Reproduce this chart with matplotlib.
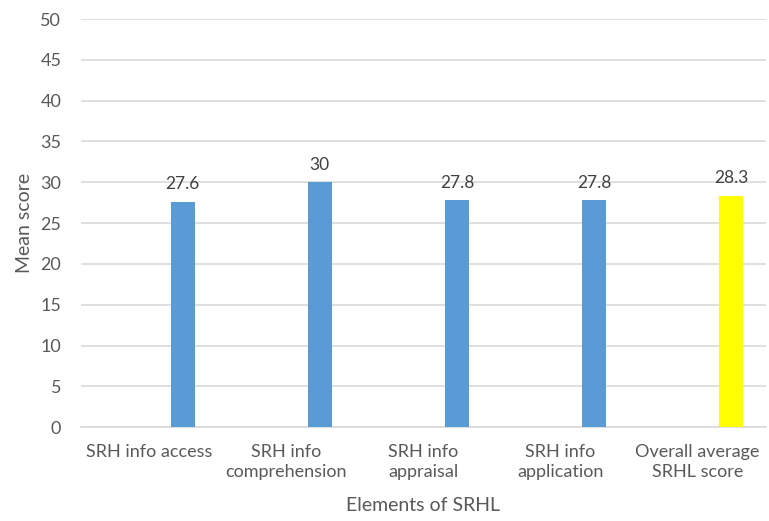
import matplotlib
matplotlib.use("Agg")
import matplotlib.pyplot as plt
import numpy as np

categories = ["SRH info access", "SRH info\ncomprehension", "SRH info\nappraisal",
              "SRH info\napplication", "Overall average\nSRHL score"]
values = [27.6, 30, 27.8, 27.8, 28.3]
labels = ["27.6", "30", "27.8", "27.8", "28.3"]
colors = ["#5B9BD5", "#5B9BD5", "#5B9BD5", "#5B9BD5", "#FFFF00"]

plt.rcParams['font.family'] = ['Lato', 'DejaVu Sans']
fig = plt.figure(figsize=(7.69, 5.21), dpi=100)
ax = fig.add_axes([0.105, 0.180, 0.891, 0.7835])

x = np.arange(len(categories))
offset = 0.245
width = 0.175
bars = ax.bar(x + offset, values, width=width, color=colors, zorder=3)
for xi, v, lab in zip(x, values, labels):
    ax.annotate(lab, (xi + offset, v), xytext=(0, 7), textcoords="offset points",
                ha="center", va="bottom", fontsize=12.5, color="#404040")

ax.set_xlim(-0.5, len(categories) - 0.5)
ax.set_ylim(0, 50)
ax.set_yticks(np.arange(0, 51, 5))
ax.set_xticks(x)
ax.set_xticklabels(categories, linespacing=1.35)
ax.grid(axis="y", color="#D9D9D9", linewidth=1.2, zorder=0)
for s in ["top", "right", "left"]:
    ax.spines[s].set_visible(False)
ax.spines["bottom"].set_color("#D9D9D9")
ax.spines["bottom"].set_linewidth(1.2)
ax.tick_params(axis="both", length=0, labelsize=13, colors="#595959")
ax.tick_params(axis="x", pad=12)
ax.tick_params(axis="y", pad=14)
ax.set_xlabel("Elements of SRHL", fontsize=14, color="#595959", labelpad=12)
ax.set_ylabel("Mean score", fontsize=14, color="#595959", labelpad=5)

fig.savefig("out.png", dpi=100)
